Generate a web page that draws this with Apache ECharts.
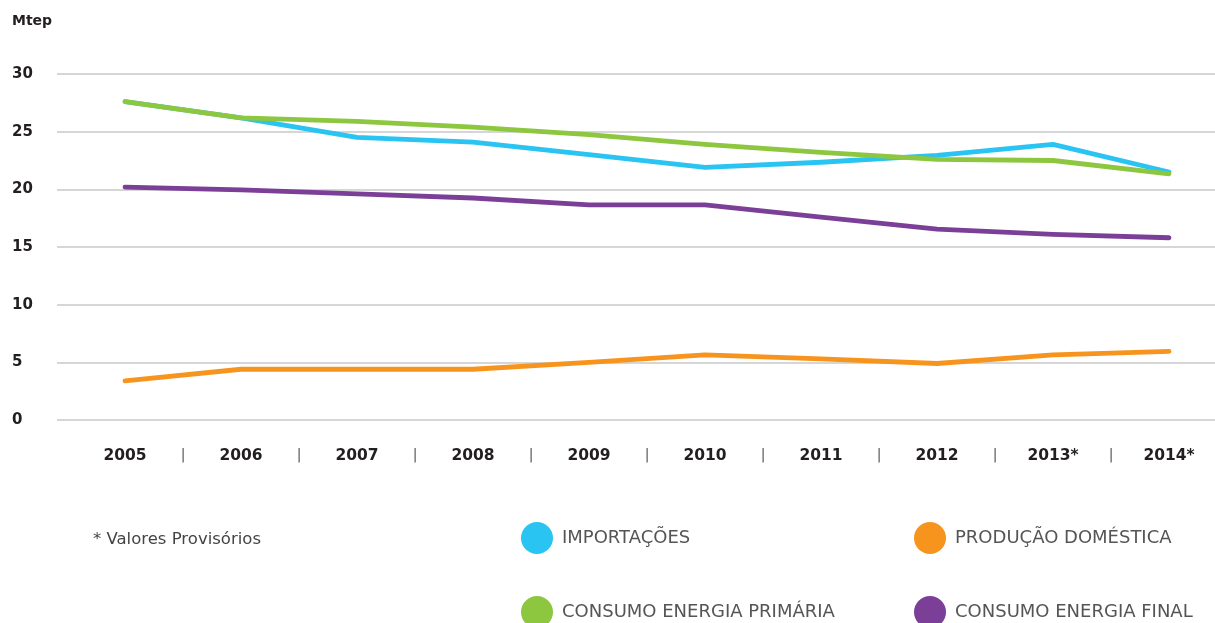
<!DOCTYPE html>
<html>
<head>
<meta charset="utf-8">
<script src="https://cdn.jsdelivr.net/npm/echarts@6/dist/echarts.min.js"></script>
<style>
html,body{margin:0;padding:0;background:#fff;}
#chart{width:1215px;height:623px;}
</style>
</head>
<body>
<div id="chart"></div>
<script>
// ---- data ----
var years = ['2005','2006','2007','2008','2009','2010','2011','2012','2013*','2014*'];
var importacoes = [27.6, 26.2, 24.5, 24.1, 23.0, 21.9, 22.35, 22.95, 23.9, 21.5];
var producaoDomestica = [3.4, 4.4, 4.4, 4.4, 5.0, 5.65, 5.3, 4.9, 5.65, 5.95];
var consumoPrimaria = [27.6, 26.2, 25.9, 25.4, 24.75, 23.9, 23.2, 22.6, 22.5, 21.35];
var consumoFinal = [20.2, 19.95, 19.6, 19.25, 18.65, 18.65, 17.6, 16.55, 16.1, 15.8];
var yTicks = {min: 0, max: 30, interval: 5};
var unitLabel = 'Mtep';
var noteText = '* Valores Provisórios';
var names = ['IMPORTAÇÕES', 'PRODUÇÃO DOMÉSTICA', 'CONSUMO ENERGIA PRIMÁRIA', 'CONSUMO ENERGIA FINAL'];
var colors = ['#29c4f1', '#f7941d', '#8dc63f', '#7b3f98'];

var chart = echarts.init(document.getElementById('chart'), null, {renderer: 'canvas'});
var lineSeries = function (name, data, color) {
  return {
    name: name, type: 'line', data: data, xAxisIndex: 1, yAxisIndex: 1,
    symbol: 'none', smooth: false, color: color,
    lineStyle: {width: 4.8, color: color, cap: 'round', join: 'round'},
    emphasis: {disabled: true}
  };
};
var textDark = '#231f20';
var legendBase = function (data, left) {
  return {
    data: data, orient: 'vertical', left: left, top: 517, height: 140, itemGap: 42,
    itemWidth: 32, itemHeight: 32, icon: 'circle', selectedMode: false,
    textStyle: {fontFamily: 'DejaVu Sans', fontSize: 18, color: '#555', padding: [0, 0, 0, 4]}
  };
};
chart.setOption({
  animation: false,
  backgroundColor: '#ffffff',
  title: [
    {text: unitLabel, left: 7, top: 9, textStyle: {fontFamily: 'DejaVu Sans', fontWeight: 'bold', fontSize: 14, color: textDark}},
    {text: noteText, left: 88, top: 526, textStyle: {fontFamily: 'DejaVu Sans', fontWeight: 'normal', fontSize: 16.5, color: '#444'}}
  ],
  grid: [
    {left: 57, right: 0, top: 74, bottom: 203, containLabel: false},
    {left: 125, right: 46, top: 74, bottom: 203, containLabel: false}
  ],
  xAxis: [
    {gridIndex: 0, type: 'value', show: false, min: 0, max: 1},
    {gridIndex: 1, type: 'category', data: years, boundaryGap: false, position: 'bottom',
     axisLine: {show: false}, axisTick: {show: false}, splitLine: {show: false},
     axisLabel: {margin: 28, fontFamily: 'DejaVu Sans', fontWeight: 'bold', fontSize: 15.5, color: textDark, interval: 0}},
    {gridIndex: 1, type: 'value', min: 0, max: (years.length - 1) * 2, interval: 1, position: 'bottom', offset: 0,
     axisLine: {show: false}, axisTick: {show: false}, splitLine: {show: false},
     axisLabel: {margin: 28, fontFamily: 'DejaVu Sans', fontSize: 14, color: '#555',
       showMinLabel: true, showMaxLabel: true,
       formatter: function (v) { return (Math.round(v) % 2 === 1) ? '|' : ''; }}}
  ],
  yAxis: [
    {gridIndex: 0, type: 'value', min: yTicks.min, max: yTicks.max, interval: yTicks.interval,
     axisLine: {show: false}, axisTick: {show: false},
     splitLine: {show: true, lineStyle: {color: '#c8c8c8', width: 1.5}},
     axisLabel: {align: 'left', margin: 45, fontFamily: 'DejaVu Sans', fontWeight: 'bold', fontSize: 15, color: textDark}},
    {gridIndex: 1, type: 'value', min: yTicks.min, max: yTicks.max, interval: yTicks.interval, show: false}
  ],
  legend: [
    legendBase([names[0], names[2]], 516),
    legendBase([names[1], names[3]], 909)
  ],
  series: [
    lineSeries(names[0], importacoes, colors[0]),
    lineSeries(names[1], producaoDomestica, colors[1]),
    lineSeries(names[2], consumoPrimaria, colors[2]),
    lineSeries(names[3], consumoFinal, colors[3])
  ]
});
</script>
</body>
</html>
